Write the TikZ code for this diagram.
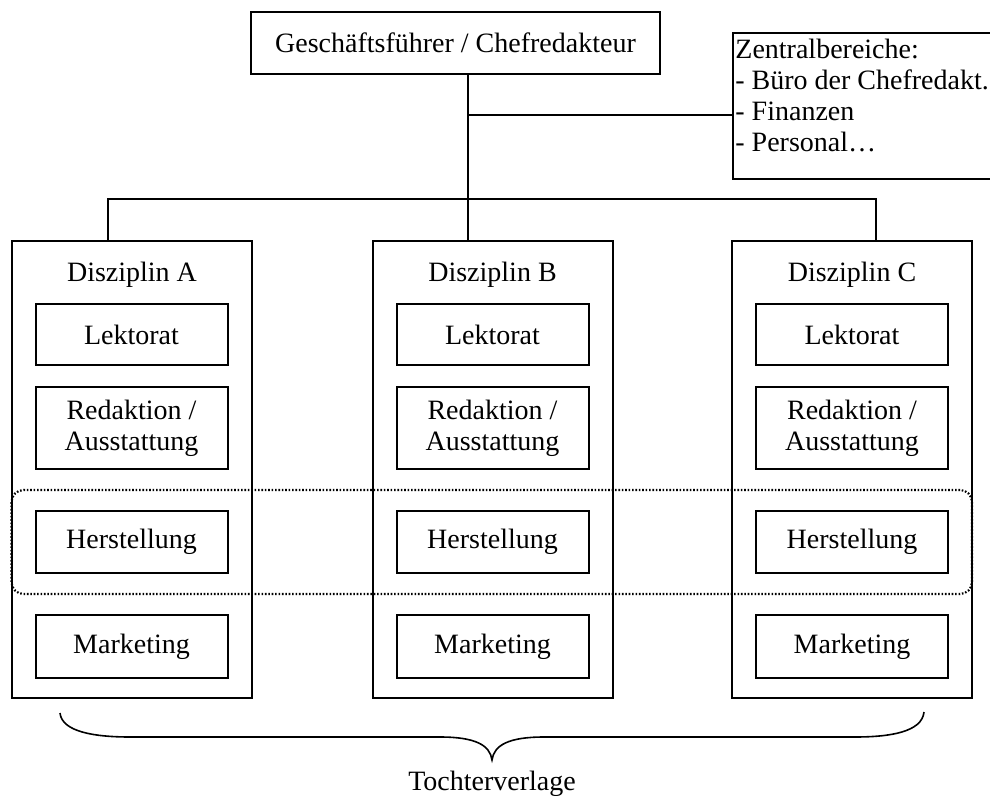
\documentclass[tikz,border=0pt]{standalone}
\usepackage{fontspec}
\setmainfont{Liberation Serif}
\usetikzlibrary{fit}
\begin{document}
\begin{tikzpicture}[x=0.5pt, y=-0.5pt,
  every node/.style={font=\fontsize{14}{15.5}\selectfont},
  box/.style={draw, line width=1pt, inner sep=0pt},
  unit/.style={box, minimum width=120pt, minimum height=228.5pt},
  dept/.style={box, minimum width=96pt, minimum height=31pt, align=center},
  link/.style={line width=1pt},
  group/.style={draw, line width=1.1pt, dash pattern=on 0.8pt off 0.9pt,
                rounded corners=6pt},
  bracepath/.style={line width=0.8pt},
]
\useasboundingbox (0,0) rectangle (990,796);

% management and central services
\node[box, minimum width=204.5pt, minimum height=31pt] (top) at (455.5,43)
  {Geschäftsführer / Chefredakteur};
\node[box, anchor=north west, minimum width=140pt, minimum height=73pt] (zentral) at (732,32) {};
\node[anchor=north west, inner sep=0pt, align=left] (zentraltext) at (735,39)
  {Zentralbereiche:\\- Büro der Chefredakt.\\- Finanzen\\- Personal…};

% the three divisions with their departments
\foreach \n/\cx/\ix in {A/132/131.5, B/492.5/492.5, C/852/852} {
  \node[unit] (dis\n) at (\cx,469.5) {};
  \node[anchor=base] (lab\n) at (\cx,282) {Disziplin \n};
  \node[dept, minimum height=30.5pt] (lek\n) at (\ix,334.5) {Lektorat};
  \node[dept, minimum height=41pt] (red\n) at (\ix,428) {Redaktion /\\Ausstattung};
  \node[dept] (her\n) at (\ix,542) {Herstellung};
  \node[dept, minimum height=31.5pt] (mar\n) at (\ix,646.5) {Marketing};
}

% shared production across divisions
\node[group, fit=(herA)(herC), inner xsep=11.5pt, inner ysep=10pt] (prod) {};

% connectors
\coordinate (trunk) at (468,199);
\coordinate (zj) at (468,115);
\coordinate (dropA) at (108,199);
\coordinate (dropC) at (876,199);
\draw[link] (top.south -| trunk) -- (trunk |- disB.north);
\draw[link] (zj) -- (zj -| zentral.west);
\draw[link] (dropA |- disA.north) -- (dropA) -- (dropC) -- (dropC |- disC.north);

% brace under the divisions
\draw[bracepath] (60,713) .. controls (62,732) and (95,737) .. (130,737)
  -- (440,737) .. controls (475,737) and (490,745) .. (492,760)
  .. controls (494,745) and (509,737) .. (544,737)
  -- (855,737) .. controls (890,737) and (922,732) .. (924,712);
\node[anchor=base] (tochter) at (492,790) {Tochterverlage};
\end{tikzpicture}
\end{document}
